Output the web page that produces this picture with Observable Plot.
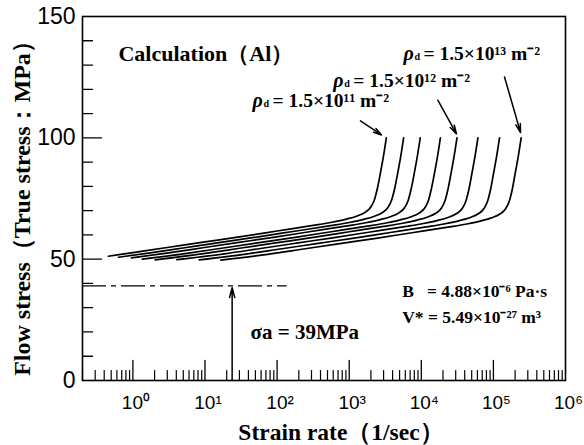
<!DOCTYPE html>
<html><head><meta charset="utf-8">
<script src="https://cdn.jsdelivr.net/npm/d3@7"></script>
<script src="https://cdn.jsdelivr.net/npm/@observablehq/plot@0.6"></script>
<style>body{margin:0;background:#fff}</style>
</head><body><div id="chart"></div>
<script>
// Strain rate (1/sec) and flow stress (MPa) for the 8 calculated curves
const rates1 = [0.457, 1, 3.16, 10, 31.6, 100, 316, 575, 912, 1259, 1660, 1995, 2239, 2455, 2692, 2951, 3273];
const rates2 = [0.631, 1.74, 5.50, 17.4, 55.0, 174, 550, 1000, 1585, 2188, 2884, 3467, 3890, 4266, 4677, 5129, 5689];
const rates3 = [0.955, 2.95, 9.33, 29.5, 93.3, 295, 933, 1698, 2692, 3715, 4898, 5888, 6607, 7244, 7943, 8710, 9661];
const rates4 = [1.35, 5.62, 17.8, 56.2, 178, 562, 1778, 3236, 5129, 7079, 9333, 11220, 12590, 13800, 15140, 16600, 18410];
const rates5 = [2.04, 9.55, 30.2, 95.5, 302, 955, 3020, 5495, 8710, 12020, 15850, 19050, 21380, 23440, 25700, 28180, 31260];
const rates6 = [4.07, 18.6, 58.9, 186, 589, 1862, 5888, 10720, 16980, 23440, 30900, 37150, 41690, 45710, 50120, 54950, 60950];
const rates7 = [8.32, 37.2, 117, 372, 1175, 3715, 11750, 21380, 33880, 46770, 61660, 74130, 83180, 91200, 100000, 109600, 121600];
const rates8 = [16.6, 74.1, 234, 741, 2344, 7413, 23440, 42660, 67610, 93330, 123000, 147900, 166000, 182000, 199500, 218800, 242700];

const stress1 = [51.2, 52.7, 54.9, 57.1, 59.3, 61.6, 63.9, 65.2, 66.5, 67.7, 69.3, 71.5, 74.5, 79, 85, 91.5, 100];
const stress2 = [50.8, 52.6, 54.8, 57.0, 59.2, 61.5, 63.8, 65.1, 66.4, 67.6, 69.2, 71.4, 74.5, 79, 85, 91.5, 100];
const stress3 = [50.5, 52.5, 54.7, 56.9, 59.1, 61.4, 63.7, 65.0, 66.3, 67.5, 69.1, 71.3, 74.4, 79, 85, 91.5, 100];
const stress4 = [50.0, 52.4, 54.6, 56.8, 59.0, 61.3, 63.6, 64.9, 66.2, 67.4, 69.0, 71.2, 74.3, 79, 85, 91.5, 100];
const stress5 = [49.7, 52.3, 54.5, 56.7, 58.9, 61.2, 63.5, 64.8, 66.1, 67.3, 68.9, 71.1, 74.2, 78.8, 85, 91.5, 100];
const stress6 = [49.8, 52.2, 54.4, 56.6, 58.8, 61.1, 63.4, 64.7, 66.0, 67.2, 68.8, 71.0, 74.1, 78.7, 85, 91.5, 100];
const stress7 = [49.7, 52.1, 54.3, 56.5, 58.7, 61.0, 63.3, 64.6, 65.9, 67.1, 68.7, 70.9, 74.0, 78.6, 85, 91.5, 100];
const stress8 = [49.6, 52.0, 54.2, 56.4, 58.6, 60.9, 63.2, 64.5, 65.8, 67.0, 68.6, 70.8, 73.9, 78.5, 85, 91.5, 100];

// Axis ticks
const xDecades = [1, 10, 100, 1000, 10000, 100000];
const xTickLabels = ["10⁰", "10¹", "10²", "10³", "10⁴", "10⁵", "10⁶"];
const xLabelValues = [1, 10, 100, 1000, 10000, 100000, 1000000];
const yTickLabels = [0, 50, 100, 150];
const yMajor = [50, 100];
const yMinor = [10, 20, 30, 40, 60, 70, 80, 90, 110, 120, 130, 140];

// Annotations
const sigmaA = 39;
const dashEnd = 138;
const sigmaArrowX = 23.8;
const rhoLabels = [
  {x: 45.7, y: 115.2, rest: "= 1.5×10¹¹ m⁻²"},
  {x: 603, y: 123.5, rest: "= 1.5×10¹² m⁻²"},
  {x: 5660, y: 134.6, rest: "= 1.5×10¹³ m⁻²"}
];
const rhoArrows = [
  {x1: 1432, y1: 107, x2: 2805, y2: 101.2},
  {x1: 16940, y1: 115.5, x2: 30760, y2: 101.6},
  {x1: 142600, y1: 125.1, x2: 237700, y2: 102.2}
];

const allRates = [rates1, rates2, rates3, rates4, rates5, rates6, rates7, rates8];
const allStress = [stress1, stress2, stress3, stress4, stress5, stress6, stress7, stress8];
const rows = [];
allRates.forEach((r, i) => r.forEach((v, j) => rows.push({curve: i, rate: v, stress: allStress[i][j]})));

const xMinor = [];
for (let e = -1; e <= 5; e++) for (let k = 2; k <= 9; k++) {
  const v = k * Math.pow(10, e);
  if (v >= 0.2 && v <= 1e6) xMinor.push(v);
}

const tickShape = {draw(context, l) { context.moveTo(0, 0); context.lineTo(0, -l); }};
const serif = "'Liberation Serif', 'Times New Roman', serif";
const sans = "'Liberation Sans', Arial, sans-serif";

const chart = Plot.plot({
  width: 584, height: 445,
  marginLeft: 82, marginRight: 19, marginTop: 16, marginBottom: 65,
  style: {fontFamily: serif, background: "white", color: "black"},
  x: {type: "log", domain: [0.2, 1e6], axis: null},
  y: {domain: [0, 150], axis: null},
  marks: [
    Plot.frame({stroke: "black", strokeWidth: 1.6}),
    Plot.vector(yMinor, {frameAnchor: "left", y: d => d, length: 10, rotate: 90, anchor: "start", shape: tickShape, stroke: "black", strokeWidth: 1.3}),
    Plot.vector(yMajor, {frameAnchor: "left", y: d => d, length: 19, rotate: 90, anchor: "start", shape: tickShape, stroke: "black", strokeWidth: 1.3}),
    Plot.vector(xMinor, {x: d => d, frameAnchor: "bottom", length: 10, rotate: 0, anchor: "start", shape: tickShape, stroke: "black", strokeWidth: 1.2}),
    Plot.vector(xDecades, {x: d => d, frameAnchor: "bottom", length: 20, rotate: 0, anchor: "start", shape: tickShape, stroke: "black", strokeWidth: 1.3}),
    Plot.text(yTickLabels, {y: d => d, frameAnchor: "left", text: d => String(d), textAnchor: "end", lineAnchor: "middle", dx: -7, fontFamily: sans, fontSize: 23}),
    Plot.text(xLabelValues, {x: d => d, frameAnchor: "bottom", text: (d, i) => xTickLabels[i], lineAnchor: "middle", dy: 22, dx: 3, fontFamily: sans, fontSize: 19}),
    Plot.text(["Strain rate（1/sec）"], {frameAnchor: "bottom", lineAnchor: "middle", dy: 52, dx: 17, fontSize: 23.5, fontWeight: "bold"}),
    Plot.text(["Flow stress（True stress：MPa）"], {frameAnchor: "left", textAnchor: "middle", lineAnchor: "middle", rotate: -90, dx: -60, dy: 4, fontSize: 24, fontWeight: "bold"}),
    Plot.line(rows, {x: "rate", y: "stress", z: "curve", curve: "monotone-x", stroke: "black", strokeWidth: 1.7}),
    Plot.ruleY([sigmaA], {x1: 0.2, x2: dashEnd, stroke: "black", strokeWidth: 1.4, strokeDasharray: "24,5,5,5"}),
    Plot.arrow([{x: sigmaArrowX}], {x1: "x", x2: "x", y1: 0, y2: sigmaA - 0.8, stroke: "black", strokeWidth: 1.5, headLength: 10, headAngle: 30}),
    Plot.arrow(rhoArrows, {x1: "x1", y1: "y1", x2: "x2", y2: "y2", stroke: "black", strokeWidth: 1.5, headLength: 9, headAngle: 30}),
    Plot.text(rhoLabels, {x: "x", y: "y", text: () => "ρ", fontStyle: "italic", fontWeight: "bold", fontSize: 20, textAnchor: "start"}),
    Plot.text(rhoLabels, {x: "x", y: "y", text: () => "d", fontSize: 10, fontWeight: "bold", dx: 11, dy: 3, textAnchor: "start"}),
    Plot.text(rhoLabels, {x: "x", y: "y", text: "rest", fontSize: 19.5, fontWeight: "bold", dx: 20, textAnchor: "start"}),
    Plot.text(["Calculation（Al）"], {x: 0.631, y: 134.6, fontSize: 22, fontWeight: "bold", textAnchor: "start"}),
    Plot.text(["B   = 4.88×10⁻⁶ Pa·s"], {x: 5430, y: 36.6, fontSize: 17.5, fontWeight: "bold", textAnchor: "start"}),
    Plot.text(["V* = 5.49×10⁻²⁷ m³"], {x: 5430, y: 25.9, fontSize: 17.5, fontWeight: "bold", textAnchor: "start"}),
    Plot.text(["σa = 39MPa"], {x: 42.8, y: 19.8, fontSize: 21, fontWeight: "bold", textAnchor: "start"})
  ]
});
document.getElementById("chart").appendChild(chart);
</script></body></html>
